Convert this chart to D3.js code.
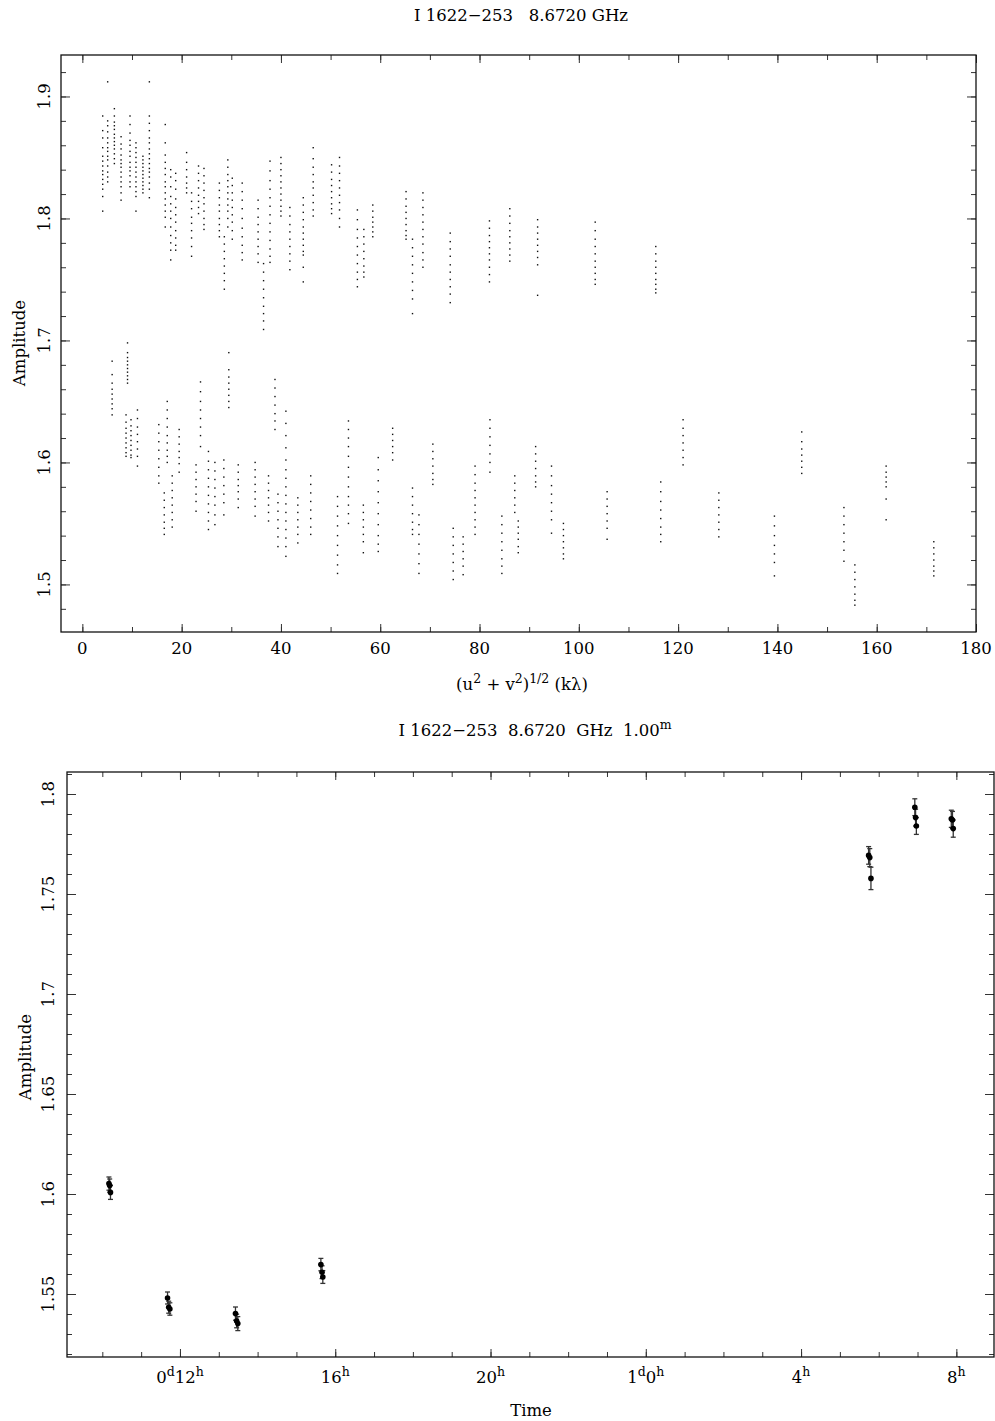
<!DOCTYPE html>
<html><head><meta charset="utf-8">
<script src="https://cdn.jsdelivr.net/npm/d3@7"></script>
<style>
body{margin:0;background:#fff}
svg{display:block}
text{font-family:"DejaVu Serif",serif;fill:#000;white-space:pre}
</style>
</head><body>
<svg id="c" width="995" height="1421"></svg>
<script>
// ---------- DATA: top panel (amplitude vs uv distance) ----------
const uvUpperX = [4.1,5.1,6.45,7.8,9.6,10.8,12.2,13.5,16.7,17.8,18.8,21.0,22.0,23.4,24.5,27.6,28.6,29.3,30.2,32.2,35.4,36.5,37.8,40.0,41.8,44.5,46.5,50.2,51.8,55.4,56.7,58.5,65.2,66.5,68.6,74.1,82.0,86.1,91.7,103.3,115.5];
const uvUpperAmp = [
 [1.884,1.872,1.866,1.858,1.851,1.847,1.843,1.839,1.836,1.832,1.828,1.824,1.818,1.806],
 [1.912,1.880,1.876,1.871,1.866,1.862,1.858,1.855,1.851,1.848,1.843,1.838,1.834,1.830],
 [1.890,1.884,1.879,1.876,1.873,1.869,1.866,1.863,1.860,1.857,1.853,1.849,1.845],
 [1.867,1.861,1.857,1.852,1.848,1.845,1.842,1.838,1.834,1.830,1.826,1.821,1.815],
 [1.884,1.877,1.870,1.864,1.860,1.855,1.851,1.846,1.842,1.839,1.835,1.830,1.826],
 [1.862,1.858,1.854,1.850,1.846,1.842,1.838,1.834,1.830,1.826,1.822,1.818,1.806],
 [1.851,1.848,1.845,1.842,1.839,1.836,1.833,1.830,1.827,1.824,1.821],
 [1.912,1.884,1.878,1.872,1.866,1.862,1.857,1.853,1.849,1.845,1.841,1.838,1.834,1.829,1.824,1.817],
 [1.877,1.862,1.852,1.846,1.841,1.836,1.830,1.826,1.821,1.816,1.811,1.806,1.801,1.793],
 [1.840,1.834,1.826,1.818,1.812,1.806,1.800,1.793,1.786,1.780,1.774,1.766],
 [1.837,1.831,1.824,1.816,1.809,1.803,1.797,1.790,1.784,1.778,1.774],
 [1.854,1.846,1.840,1.834,1.829,1.825,1.821],
 [1.821,1.814,1.808,1.801,1.796,1.790,1.784,1.777,1.769],
 [1.843,1.837,1.831,1.825,1.819,1.814,1.809,1.804],
 [1.841,1.835,1.829,1.823,1.817,1.812,1.806,1.800,1.795,1.791],
 [1.829,1.823,1.817,1.811,1.806,1.800,1.795,1.790,1.785],
 [1.785,1.779,1.773,1.767,1.761,1.755,1.749,1.742],
 [1.848,1.842,1.836,1.831,1.826,1.821,1.816,1.811,1.806,1.800,1.793],
 [1.833,1.827,1.821,1.815,1.809,1.803,1.797,1.790,1.783],
 [1.829,1.822,1.815,1.808,1.800,1.792,1.785,1.778,1.772,1.766],
 [1.815,1.808,1.801,1.795,1.789,1.783,1.777,1.771,1.764],
 [1.763,1.756,1.749,1.742,1.735,1.728,1.722,1.716,1.709],
 [1.847,1.839,1.831,1.824,1.817,1.810,1.803,1.796,1.789,1.782,1.775,1.769,1.764],
 [1.850,1.845,1.840,1.835,1.830,1.825,1.820,1.815,1.810,1.806,1.802],
 [1.809,1.802,1.795,1.789,1.783,1.777,1.771,1.765,1.758],
 [1.817,1.811,1.805,1.799,1.793,1.788,1.783,1.778,1.773,1.770,1.760,1.748],
 [1.858,1.849,1.842,1.836,1.830,1.825,1.819,1.813,1.807,1.802],
 [1.844,1.838,1.832,1.827,1.822,1.817,1.812,1.808,1.804],
 [1.850,1.843,1.837,1.831,1.825,1.819,1.813,1.807,1.800,1.793],
 [1.807,1.799,1.791,1.784,1.777,1.770,1.763,1.756,1.750,1.744],
 [1.791,1.785,1.779,1.773,1.767,1.761,1.756,1.752],
 [1.811,1.806,1.801,1.797,1.793,1.789,1.785],
 [1.822,1.816,1.810,1.805,1.800,1.795,1.790,1.786,1.783],
 [1.783,1.776,1.769,1.762,1.755,1.748,1.741,1.734,1.722],
 [1.821,1.815,1.809,1.803,1.797,1.791,1.785,1.779,1.772,1.766,1.760],
 [1.788,1.781,1.775,1.769,1.762,1.756,1.750,1.744,1.738,1.731],
 [1.798,1.792,1.786,1.781,1.776,1.771,1.766,1.760,1.754,1.748],
 [1.808,1.802,1.796,1.790,1.785,1.780,1.775,1.770,1.765],
 [1.799,1.793,1.788,1.783,1.778,1.773,1.768,1.762,1.737],
 [1.797,1.790,1.783,1.777,1.771,1.765,1.760,1.755,1.750,1.746],
 [1.777,1.771,1.765,1.760,1.755,1.750,1.746,1.742,1.739]
];
const uvLowerX = [6.0,9.1,8.8,9.8,11.1,15.4,16.5,17.1,18.1,19.5,22.9,23.8,25.4,26.7,28.5,29.5,31.4,34.8,37.5,38.8,39.4,41.0,43.4,46.0,51.4,53.6,56.6,59.6,62.5,66.5,67.8,70.6,74.7,76.7,79.1,82.1,84.5,87.1,87.8,91.3,94.5,96.9,105.7,116.5,121.0,128.2,139.4,144.9,153.4,155.6,161.9,171.5];
const uvLowerAmp = [
 [1.683,1.672,1.665,1.660,1.656,1.652,1.648,1.644,1.639],
 [1.698,1.690,1.686,1.683,1.680,1.677,1.674,1.671,1.668,1.665],
 [1.639,1.633,1.628,1.624,1.620,1.616,1.612,1.608,1.605],
 [1.635,1.630,1.626,1.622,1.618,1.614,1.610,1.606,1.604],
 [1.643,1.636,1.629,1.623,1.617,1.611,1.605,1.597],
 [1.631,1.624,1.617,1.610,1.603,1.596,1.589,1.583],
 [1.575,1.569,1.563,1.557,1.551,1.546,1.541],
 [1.650,1.643,1.636,1.629,1.622,1.616,1.610,1.605,1.600],
 [1.589,1.583,1.577,1.571,1.565,1.559,1.553,1.547],
 [1.627,1.621,1.615,1.609,1.604,1.599,1.592],
 [1.598,1.592,1.586,1.580,1.574,1.568,1.560],
 [1.666,1.658,1.650,1.643,1.636,1.629,1.622,1.613],
 [1.609,1.601,1.594,1.587,1.580,1.573,1.566,1.559,1.552,1.545],
 [1.600,1.593,1.586,1.579,1.572,1.565,1.557,1.549],
 [1.602,1.595,1.588,1.581,1.574,1.567,1.557],
 [1.690,1.676,1.670,1.665,1.660,1.655,1.650,1.645],
 [1.598,1.592,1.586,1.581,1.576,1.570,1.563],
 [1.600,1.594,1.588,1.582,1.576,1.570,1.564,1.556],
 [1.589,1.583,1.577,1.571,1.565,1.559,1.552],
 [1.668,1.661,1.654,1.647,1.640,1.634,1.627],
 [1.574,1.567,1.560,1.553,1.546,1.539,1.531],
 [1.642,1.632,1.622,1.612,1.602,1.594,1.587,1.580,1.573,1.566,1.559,1.552,1.545,1.538,1.531,1.523],
 [1.571,1.565,1.559,1.553,1.547,1.541,1.534],
 [1.589,1.582,1.575,1.568,1.561,1.554,1.547,1.541],
 [1.572,1.564,1.556,1.548,1.540,1.532,1.524,1.516,1.509],
 [1.634,1.627,1.620,1.613,1.605,1.596,1.588,1.580,1.572,1.565,1.558,1.550],
 [1.565,1.559,1.553,1.547,1.541,1.535,1.526],
 [1.604,1.594,1.585,1.576,1.567,1.558,1.549,1.540,1.533,1.527],
 [1.628,1.623,1.618,1.613,1.608,1.602],
 [1.579,1.572,1.565,1.558,1.551,1.545,1.541],
 [1.557,1.549,1.541,1.533,1.525,1.517,1.509],
 [1.615,1.609,1.603,1.597,1.591,1.586,1.582],
 [1.546,1.539,1.532,1.525,1.518,1.511,1.504],
 [1.539,1.533,1.527,1.521,1.515,1.508],
 [1.597,1.590,1.583,1.577,1.571,1.565,1.559,1.553,1.547,1.541],
 [1.635,1.628,1.621,1.614,1.607,1.600,1.592],
 [1.556,1.549,1.542,1.535,1.528,1.521,1.515,1.509],
 [1.589,1.583,1.577,1.571,1.565,1.559],
 [1.552,1.547,1.542,1.537,1.531,1.526],
 [1.613,1.607,1.601,1.595,1.589,1.584,1.580],
 [1.597,1.589,1.581,1.574,1.567,1.560,1.553,1.542],
 [1.550,1.545,1.540,1.535,1.530,1.525,1.521],
 [1.576,1.570,1.564,1.558,1.552,1.546,1.537],
 [1.584,1.576,1.568,1.561,1.554,1.547,1.541,1.535],
 [1.635,1.628,1.622,1.616,1.610,1.604,1.598],
 [1.575,1.569,1.563,1.557,1.551,1.545,1.539],
 [1.556,1.548,1.540,1.532,1.525,1.518,1.507],
 [1.625,1.617,1.611,1.606,1.601,1.596,1.591],
 [1.563,1.556,1.549,1.542,1.535,1.528,1.519],
 [1.516,1.510,1.504,1.498,1.492,1.487,1.483],
 [1.597,1.592,1.588,1.584,1.580,1.570,1.553],
 [1.535,1.530,1.525,1.520,1.515,1.511,1.507]
];
const uvTickValues = [0,20,40,60,80,100,120,140,160,180];
const ampTopTickValues = [1.5,1.6,1.7,1.8,1.9];

// ---------- DATA: bottom panel (amplitude vs time, hours from day 0) ----------
const timeHours = [10.17,10.19,10.21, 11.68,11.71,11.74, 13.43,13.46,13.49, 15.63,15.66,15.68, 29.74,29.77,29.80, 30.93,30.95,30.97, 31.87,31.90,31.92];
const timeAmp   = [1.6052,1.6042,1.6008, 1.5480,1.5434,1.5425, 1.5402,1.5365,1.5352, 1.5647,1.5609,1.5585, 1.7693,1.7682,1.7578, 1.7934,1.7882,1.7840, 1.7876,1.7870,1.7827];
const timeErr   = [0.0033,0.0033,0.0035, 0.0030,0.0030,0.0031, 0.0033,0.0034,0.0035, 0.0031,0.0032,0.0032, 0.0044,0.0045,0.0056, 0.0042,0.0042,0.0042, 0.0043,0.0043,0.0043];
const timeTickHours  = [12,16,20,24,28,32];
const timeTickLabels = ["0^d12^h","16^h","20^h","1^d0^h","4^h","8^h"];
const ampBotTickValues = [1.55,1.6,1.65,1.7,1.75,1.8];

const title1 = "I 1622\u2212253   8.6720 GHz";
const title2 = "I 1622\u2212253  8.6720  GHz  1.00^m";
const xLabel1 = "(u^2 + v^2)^{1/2} (k\u03bb)";

// ---------- DRAW ----------
const svg = d3.select("#c");
const FS = 16.5, SFS = 12.5, SUP = 7.5;

function rich(sel, str){
  // parses ^c or ^{...} superscripts; baseline restored on the next normal run
  const parts = [];
  let i=0, buf="";
  while(i<str.length){
    if(str[i]==="^"){
      if(buf){ parts.push({t:buf,s:false}); buf=""; }
      let sup;
      if(str[i+1]==="{"){ const j=str.indexOf("}",i); sup=str.slice(i+2,j); i=j+1; }
      else { sup=str[i+1]; i+=2; }
      parts.push({t:sup,s:true});
    } else { buf+=str[i]; i++; }
  }
  if(buf) parts.push({t:buf,s:false});
  let raised=false;
  parts.forEach(p=>{
    const ts = sel.append("tspan").text(p.t);
    if(p.s){ ts.attr("font-size",SFS); if(!raised){ ts.attr("dy",-SUP); raised=true; } }
    else if(raised){ ts.attr("dy",SUP); raised=false; }
  });
  return sel;
}

function frame(g, x, y, xMaj, xMin, yMaj, yMin){
  const [x0,x1]=x.range(), [y0,y1]=y.range();
  const mk=(axis)=>{ axis.call(a=>a.select(".domain").remove()); axis.selectAll("line").attr("stroke","#333").attr("stroke-width",1); axis.selectAll("text").remove(); };
  const majL=8, minL=5;
  [[xMaj,majL],[xMin,minL]].forEach(([v,l])=>{
    mk(g.append("g").attr("transform",`translate(0,${y0})`).call(d3.axisBottom(x).tickValues(v).tickSize(-l).tickFormat("")));
    mk(g.append("g").attr("transform",`translate(0,${y1})`).call(d3.axisTop(x).tickValues(v).tickSize(-l).tickFormat("")));
  });
  [[yMaj,majL+1],[yMin,minL]].forEach(([v,l])=>{
    mk(g.append("g").attr("transform",`translate(${x0},0)`).call(d3.axisLeft(y).tickValues(v).tickSize(-l).tickFormat("")));
    mk(g.append("g").attr("transform",`translate(${x1},0)`).call(d3.axisRight(y).tickValues(v).tickSize(-l).tickFormat("")));
  });
  g.append("rect").attr("x",x0).attr("y",y1).attr("width",x1-x0).attr("height",y0-y1)
    .attr("fill","none").attr("stroke","#111").attr("stroke-width",1.3);
}

// ---- top panel ----
const xT = d3.scaleLinear().domain([-4.3,180]).range([61,976]);
const yT = d3.scaleLinear().domain([1.461,1.934]).range([632,55]);
const gT = svg.append("g");
const dots = [];
uvUpperX.forEach((x,i)=>uvUpperAmp[i].forEach(a=>dots.push([x,a])));
uvLowerX.forEach((x,i)=>uvLowerAmp[i].forEach(a=>dots.push([x,a])));
gT.append("g").selectAll("rect").data(dots).join("rect")
  .attr("x",d=>xT(d[0])-0.7).attr("y",d=>yT(d[1])-0.7)
  .attr("width",1.4).attr("height",1.4).attr("fill","#111");
frame(gT, xT, yT, uvTickValues, d3.range(0,181,10), ampTopTickValues, d3.range(1.48,1.921,0.02));
gT.append("g").selectAll("text").data(uvTickValues).join("text")
  .attr("x",d=>xT(d)).attr("y",654).attr("text-anchor","middle").attr("font-size",FS).text(d=>d);
gT.append("g").selectAll("text").data(ampTopTickValues).join("text")
  .attr("transform",d=>`translate(50,${yT(d)}) rotate(-90)`).attr("text-anchor","middle").attr("font-size",FS).text(d=>d3.format(".1f")(d));
rich(gT.append("text").attr("x",521).attr("y",20.5).attr("text-anchor","middle").attr("font-size",FS), title1);
rich(gT.append("text").attr("x",522).attr("y",690).attr("text-anchor","middle").attr("font-size",FS), xLabel1);
gT.append("text").attr("transform","translate(25,343) rotate(-90)").attr("text-anchor","middle").attr("font-size",FS).text("Amplitude");

// ---- bottom panel ----
const xB = d3.scaleLinear().domain([9.09,32.97]).range([67,994]);
const yB = d3.scaleLinear().domain([1.5185,1.811]).range([1357,772]);
const gB = svg.append("g");
frame(gB, xB, yB, timeTickHours, d3.range(10,33,1), ampBotTickValues, d3.range(1.52,1.8105,0.01));
const pts = timeHours.map((h,i)=>({h, a:timeAmp[i], e:timeErr[i]}));
const eb = gB.append("g").attr("stroke","#333").attr("stroke-width",1.3);
eb.selectAll(".v").data(pts).join("line").attr("x1",d=>xB(d.h)).attr("x2",d=>xB(d.h))
  .attr("y1",d=>yB(d.a+d.e)).attr("y2",d=>yB(d.a-d.e));
eb.selectAll(".t").data(pts).join("line").attr("x1",d=>xB(d.h)-2.5).attr("x2",d=>xB(d.h)+2.5)
  .attr("y1",d=>yB(d.a+d.e)).attr("y2",d=>yB(d.a+d.e));
eb.selectAll(".b").data(pts).join("line").attr("x1",d=>xB(d.h)-2.5).attr("x2",d=>xB(d.h)+2.5)
  .attr("y1",d=>yB(d.a-d.e)).attr("y2",d=>yB(d.a-d.e));
gB.append("g").selectAll("circle").data(pts).join("circle")
  .attr("cx",d=>xB(d.h)).attr("cy",d=>yB(d.a)).attr("r",2.8).attr("fill","#000");
timeTickHours.forEach((h,i)=>{
  rich(gB.append("text").attr("x",xB(h)).attr("y",1383).attr("text-anchor","middle").attr("font-size",FS), timeTickLabels[i]);
});
gB.append("g").selectAll("text").data(ampBotTickValues).join("text")
  .attr("transform",d=>`translate(54,${yB(d)}) rotate(-90)`).attr("text-anchor","middle").attr("font-size",FS)
  .text(d=>d3.format(".2~f")(d));
rich(gB.append("text").attr("x",535).attr("y",736).attr("text-anchor","middle").attr("font-size",FS), title2);
gB.append("text").attr("x",531).attr("y",1416).attr("text-anchor","middle").attr("font-size",FS).text("Time");
gB.append("text").attr("transform","translate(31,1057) rotate(-90)").attr("text-anchor","middle").attr("font-size",FS).text("Amplitude");
</script>
</body></html>
